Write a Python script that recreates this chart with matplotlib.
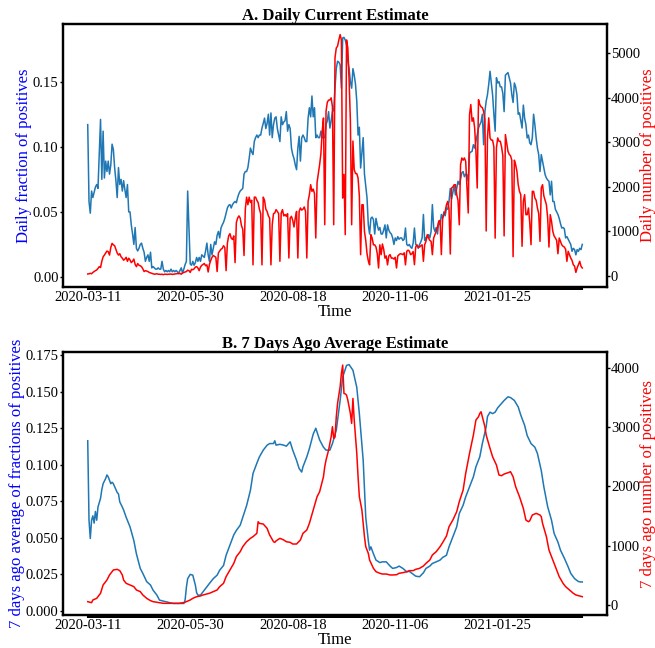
import matplotlib
matplotlib.use('Agg')
import matplotlib.pyplot as plt
import pandas as pd

plt.rcParams['font.family'] = ['Liberation Serif', 'DejaVu Serif']

start_date = '2020-03-11'
tick_labels = ['2020-03-11', '2020-05-30', '2020-08-18', '2020-11-06', '2021-01-25']
a_left_ticks = [0.00, 0.05, 0.10, 0.15]
a_right_ticks = [0, 1000, 2000, 3000, 4000, 5000]
b_left_ticks = [0.000, 0.025, 0.050, 0.075, 0.100, 0.125, 0.150, 0.175]
b_right_ticks = [0, 1000, 2000, 3000, 4000]

# Panel A: daily number of positives (weekly rows, Wed..Tue)
a_count_weeks = [
    [45, 50, 60, 50, 80, 100, 120],
    [135, 170, 210, 190, 330, 430, 470],
    [516, 560, 546, 470, 640, 733, 700],
    [680, 600, 516, 470, 500, 433, 400],
    [355, 380, 420, 330, 400, 360, 300],
    [330, 380, 260, 210, 280, 240, 230],
    [210, 160, 100, 120, 110, 100, 80],
    [70, 60, 50, 40, 45, 50, 40],
    [40, 35, 40, 30, 40, 40, 35],
    [40, 40, 45, 35, 40, 45, 50],
    [55, 50, 60, 40, 70, 80, 90],
    [100, 130, 120, 80, 150, 140, 160],
    [200, 210, 180, 120, 200, 240, 260],
    [280, 230, 250, 90, 260, 350, 420],
    [460, 440, 420, 100, 520, 560, 600],
    [620, 680, 640, 120, 737, 900, 950],
    [850, 820, 900, 300, 1200, 1300, 1350],
    [1300, 1130, 1050, 460, 1500, 1770, 1600],
    [1770, 1650, 1700, 250, 1770, 1770, 1700],
    [1650, 1500, 1400, 250, 1770, 1700, 1500],
    [1450, 1350, 1300, 250, 1150, 1400, 1415],
    [1490, 1450, 1400, 330, 1415, 1490, 1350],
    [1380, 1340, 1400, 404, 1300, 1340, 1250],
    [1100, 1300, 1450, 404, 1450, 1527, 1480],
    [1500, 1550, 1450, 404, 1676, 1826, 2050],
    [1900, 1950, 1850, 853, 2100, 2300, 2500],
    [2750, 3248, 3547, 1151, 3700, 3900, 3950],
    [3950, 4000, 3800, 1151, 4900, 5120, 5160],
    [5300, 5420, 5300, 1750, 2280, 928, 5300],
    [5120, 4400, 3500, 1151, 3030, 2390, 2300],
    [2300, 2200, 1800, 478, 1600, 1600, 1000],
    [800, 500, 340, 250, 928, 850, 700],
    [700, 650, 500, 180, 700, 478, 718],
    [600, 400, 450, 250, 450, 480, 400],
    [404, 380, 420, 180, 450, 479, 500],
    [494, 480, 520, 250, 554, 580, 560],
    [479, 500, 550, 254, 651, 700, 650],
    [650, 680, 700, 330, 703, 778, 928],
    [853, 800, 778, 479, 853, 928, 1003],
    [1100, 1228, 1250, 480, 1300, 1377, 1450],
    [1600, 1676, 1500, 494, 1976, 2000, 2050],
    [2050, 1825, 1700, 1150, 2500, 2650, 2600],
    [2650, 2575, 2000, 1415, 3620, 3850, 3473],
    [3550, 3325, 2800, 1975, 3960, 3850, 3800],
    [3780, 3700, 3500, 1010, 3100, 3550, 3100],
    [3050, 3050, 2900, 850, 2874, 3100, 3025],
    [3025, 2900, 2700, 900, 3175, 2990, 2800],
    [2730, 2700, 2600, 433, 2600, 2500, 2350],
    [2050, 1900, 1826, 667, 1676, 1826, 1377],
    [1377, 1527, 1200, 703, 1900, 1900, 1750],
    [1700, 1527, 1400, 778, 1976, 2050, 1800],
    [1700, 1600, 1300, 650, 1377, 1228, 1003],
    [900, 853, 800, 500, 853, 778, 700],
    [667, 650, 600, 330, 554, 479, 404],
    [350, 254, 220, 80, 180, 254, 330],
    [220, 180],
]

# Panel A: daily fraction of positives
a_frac_weeks = [
    [0.117, 0.058, 0.049, 0.066, 0.061, 0.065, 0.069],
    [0.071, 0.068, 0.094, 0.121, 0.075, 0.112, 0.076],
    [0.089, 0.081, 0.089, 0.079, 0.086, 0.102, 0.098],
    [0.084, 0.074, 0.061, 0.084, 0.071, 0.075, 0.066],
    [0.074, 0.067, 0.061, 0.071, 0.050, 0.050, 0.040],
    [0.033, 0.025, 0.038, 0.022, 0.020, 0.022, 0.025],
    [0.026, 0.022, 0.019, 0.012, 0.015, 0.017, 0.012],
    [0.019, 0.007, 0.008, 0.007, 0.006, 0.006, 0.007],
    [0.006, 0.006, 0.012, 0.006, 0.004, 0.005, 0.004],
    [0.005, 0.004, 0.006, 0.004, 0.005, 0.004, 0.005],
    [0.004, 0.003, 0.005, 0.007, 0.003, 0.006, 0.0095],
    [0.012, 0.066, 0.038, 0.010, 0.009, 0.012, 0.009],
    [0.011, 0.015, 0.012, 0.015, 0.012, 0.017, 0.016],
    [0.015, 0.020, 0.026, 0.017, 0.012, 0.025, 0.017],
    [0.022, 0.027, 0.025, 0.032, 0.035, 0.030, 0.0376],
    [0.040, 0.042, 0.045, 0.049, 0.053, 0.055, 0.0556],
    [0.053, 0.0556, 0.057, 0.058, 0.057, 0.061, 0.064],
    [0.066, 0.067, 0.068, 0.079, 0.081, 0.081, 0.084],
    [0.091, 0.099, 0.096, 0.094, 0.104, 0.107, 0.109],
    [0.107, 0.109, 0.109, 0.1144, 0.118, 0.122, 0.114],
    [0.118, 0.125, 0.109, 0.126, 0.107, 0.117, 0.122],
    [0.123, 0.114, 0.109, 0.104, 0.123, 0.117, 0.119],
    [0.120, 0.127, 0.112, 0.117, 0.114, 0.099, 0.094],
    [0.091, 0.086, 0.0824, 0.099, 0.108, 0.089, 0.1068],
    [0.109, 0.107, 0.104, 0.104, 0.122, 0.130, 0.123],
    [0.139, 0.123, 0.130, 0.107, 0.109, 0.107, 0.107],
    [0.112, 0.107, 0.107, 0.107, 0.117, 0.120, 0.127],
    [0.1144, 0.120, 0.127, 0.128, 0.145, 0.160, 0.1657],
    [0.165, 0.163, 0.145, 0.1836, 0.184, 0.182, 0.178],
    [0.1657, 0.160, 0.150, 0.145, 0.160, 0.155, 0.148],
    [0.135, 0.109, 0.115, 0.0837, 0.095, 0.107, 0.079],
    [0.070, 0.0607, 0.040, 0.033, 0.045, 0.046, 0.044],
    [0.033, 0.045, 0.040, 0.036, 0.038, 0.033, 0.033],
    [0.036, 0.040, 0.030, 0.040, 0.036, 0.034, 0.033],
    [0.030, 0.025, 0.030, 0.028, 0.031, 0.029, 0.030],
    [0.030, 0.028, 0.029, 0.0376, 0.025, 0.024, 0.025],
    [0.023, 0.022, 0.026, 0.0376, 0.025, 0.024, 0.022],
    [0.025, 0.027, 0.030, 0.048, 0.028, 0.030, 0.031],
    [0.0325, 0.030, 0.035, 0.0556, 0.038, 0.035, 0.038],
    [0.033, 0.043, 0.040, 0.048, 0.045, 0.050, 0.047],
    [0.053, 0.052, 0.058, 0.068, 0.060, 0.065, 0.070],
    [0.063, 0.068, 0.0735, 0.071, 0.075, 0.080, 0.081],
    [0.077, 0.079, 0.0786, 0.0735, 0.095, 0.096, 0.0965],
    [0.1016, 0.099, 0.104, 0.109, 0.1144, 0.117, 0.119],
    [0.125, 0.1016, 0.127, 0.135, 0.140, 0.148, 0.158],
    [0.149, 0.140, 0.125, 0.112, 0.153, 0.149, 0.150],
    [0.146, 0.146, 0.141, 0.127, 0.155, 0.156, 0.157],
    [0.153, 0.149, 0.140, 0.134, 0.149, 0.146, 0.140],
    [0.125, 0.126, 0.120, 0.1144, 0.132, 0.122, 0.117],
    [0.1068, 0.109, 0.103, 0.1016, 0.107, 0.125, 0.117],
    [0.1068, 0.099, 0.094, 0.081, 0.094, 0.089, 0.0837],
    [0.0786, 0.076, 0.0745, 0.0735, 0.063, 0.0735, 0.058],
    [0.058, 0.052, 0.050, 0.048, 0.045, 0.041, 0.0376],
    [0.038, 0.037, 0.030, 0.031, 0.029, 0.027, 0.025],
    [0.0197, 0.022, 0.021, 0.017, 0.021, 0.0197, 0.022],
    [0.021, 0.025],
]

# Panel B: 7 days ago average fraction (day offset, value)
b_frac_pts = [
    (0, 0.1164), (1, 0.062), (2, 0.0495), (3, 0.062), (4, 0.065), (5, 0.060), (6, 0.068),
    (7, 0.062), (8, 0.071), (10, 0.077), (11, 0.083), (12, 0.087), (14, 0.0906), (15, 0.093),
    (16, 0.0917), (18, 0.087), (19, 0.088), (20, 0.087), (21, 0.085), (23, 0.081), (24, 0.080),
    (25, 0.0746), (27, 0.071), (28, 0.069), (30, 0.064), (33, 0.0575), (36, 0.048), (38, 0.039),
    (41, 0.029), (43, 0.0256), (46, 0.020), (49, 0.0176), (51, 0.0141), (54, 0.0107), (56, 0.0073),
    (59, 0.0066), (62, 0.006), (64, 0.0055), (67, 0.005), (70, 0.005), (72, 0.005), (75, 0.005),
    (76, 0.0073), (77, 0.016), (78, 0.022), (80, 0.0249), (82, 0.0244), (84, 0.0176), (85, 0.0123),
    (86, 0.0107), (88, 0.0107), (90, 0.013), (93, 0.0164), (95, 0.0187), (98, 0.022), (101, 0.0244),
    (103, 0.0278), (106, 0.031), (108, 0.038), (111, 0.045), (114, 0.052), (116, 0.055), (119, 0.0586),
    (121, 0.064), (124, 0.072), (127, 0.0826), (129, 0.094), (132, 0.101), (134, 0.1054), (137, 0.110),
    (140, 0.1134), (142, 0.1145), (145, 0.1145), (146, 0.1164), (147, 0.1134), (150, 0.114),
    (153, 0.1134), (155, 0.1127), (158, 0.1157), (160, 0.110), (163, 0.103), (165, 0.0974),
    (167, 0.095), (168, 0.0986), (171, 0.1054), (173, 0.111), (176, 0.121), (178, 0.125),
    (181, 0.117), (184, 0.112), (186, 0.110), (189, 0.110), (191, 0.1145), (194, 0.1237),
    (197, 0.144), (199, 0.160), (202, 0.168), (204, 0.1686), (207, 0.1647), (210, 0.153),
    (212, 0.135), (215, 0.103), (217, 0.064), (219, 0.048), (220, 0.0415), (221, 0.0438),
    (223, 0.039), (225, 0.0347), (228, 0.033), (230, 0.0335), (233, 0.0335), (236, 0.0306),
    (238, 0.029), (241, 0.0296), (243, 0.0306), (246, 0.029), (249, 0.0267), (251, 0.027),
    (254, 0.025), (256, 0.0237), (259, 0.0233), (262, 0.026), (264, 0.029), (267, 0.0306),
    (269, 0.0324), (272, 0.0335), (275, 0.0347), (277, 0.0365), (280, 0.038), (282, 0.0438),
    (285, 0.0506), (288, 0.0575), (290, 0.0666), (293, 0.0723), (295, 0.078), (298, 0.0849),
    (301, 0.0917), (303, 0.0986), (306, 0.1054), (308, 0.1145), (311, 0.126), (312, 0.133),
    (314, 0.136), (316, 0.135), (318, 0.136), (320, 0.139), (323, 0.142), (325, 0.144),
    (328, 0.1465), (330, 0.146), (333, 0.144), (336, 0.1396), (338, 0.134), (341, 0.127),
    (343, 0.120), (346, 0.1145), (349, 0.112), (351, 0.1077), (354, 0.096), (356, 0.0849),
    (359, 0.0712), (362, 0.062), (364, 0.053), (367, 0.047), (369, 0.0415), (372, 0.036),
    (375, 0.030), (377, 0.0256), (380, 0.022), (383, 0.020), (385, 0.0197), (386, 0.0197),
]

# Panel B: 7 days ago number of positives (day offset, value)
b_count_pts = [
    (0, 56), (3, 39), (4, 84), (7, 112), (10, 197), (12, 337), (15, 421), (17, 506), (20, 590),
    (23, 601), (25, 579), (27, 506), (28, 421), (30, 365), (33, 337), (36, 309), (38, 253),
    (41, 225), (43, 169), (46, 112), (49, 73), (51, 56), (54, 45), (56, 39), (59, 28), (62, 28),
    (65, 28), (68, 28), (71, 28), (75, 39), (77, 56), (80, 84), (82, 112), (85, 140), (88, 152),
    (90, 169), (93, 185), (95, 197), (98, 225), (101, 253), (103, 309), (106, 365), (108, 478),
    (111, 590), (114, 702), (116, 815), (119, 899), (121, 983), (124, 1067), (127, 1124),
    (129, 1152), (132, 1208), (133, 1404), (134, 1376), (137, 1365), (140, 1292), (142, 1180),
    (145, 1067), (146, 1056), (147, 1080), (150, 1124), (153, 1096), (155, 1067), (158, 1056),
    (160, 1028), (163, 1028), (166, 1096), (168, 1208), (171, 1264), (173, 1376), (176, 1601),
    (179, 1826), (181, 1910), (184, 2163), (185, 2331), (186, 2444), (188, 2612), (189, 2725),
    (190, 2837), (191, 3006), (192, 2809), (193, 2830), (194, 3174), (195, 3399), (197, 3680),
    (198, 3904), (199, 4045), (200, 3567), (201, 3560), (202, 3539), (203, 3455), (205, 3230),
    (206, 3062), (207, 3483), (208, 3118), (210, 2556), (211, 2163), (212, 1826), (214, 1601),
    (215, 1376), (216, 1152), (217, 983), (219, 871), (220, 758), (223, 618), (225, 562),
    (228, 534), (230, 522), (233, 522), (236, 506), (238, 506), (241, 510), (243, 534),
    (246, 545), (249, 560), (251, 579), (254, 579), (256, 601), (259, 618), (262, 657),
    (264, 702), (267, 758), (269, 843), (272, 899), (275, 983), (277, 1051), (280, 1163),
    (282, 1320), (285, 1433), (288, 1573), (290, 1742), (293, 1938), (295, 2219), (298, 2556),
    (301, 2865), (303, 3118), (305, 3174), (306, 3230), (307, 3258), (308, 3174), (310, 3006),
    (311, 2865), (314, 2640), (316, 2500), (319, 2360), (321, 2191), (323, 2180), (325, 2208),
    (328, 2230), (330, 2247), (332, 2163), (334, 1994), (337, 1826), (340, 1629), (342, 1433),
    (344, 1404), (345, 1420), (347, 1517), (350, 1545), (353, 1517), (354, 1489), (355, 1376),
    (358, 1152), (360, 927), (363, 758), (366, 590), (368, 478), (371, 365), (373, 309),
    (376, 253), (379, 197), (381, 169), (384, 152), (386, 140),
]

a_count = [v for w in a_count_weeks for v in w]
a_frac = [v for w in a_frac_weeks for v in w]
start = pd.Timestamp(start_date)
dates_a_count = pd.date_range(start, periods=len(a_count), freq='D')
dates_a_frac = pd.date_range(start, periods=len(a_frac), freq='D')
b_frac_dates = [start + pd.Timedelta(days=d) for d, _ in b_frac_pts]
b_frac = [v for _, v in b_frac_pts]
b_count_dates = [start + pd.Timedelta(days=d) for d, _ in b_count_pts]
b_count = [v for _, v in b_count_pts]
all_days = pd.date_range(start, b_count_dates[-1], freq='D')

BLUE_LINE = '#1f77b4'
W, H = 655, 648
AX_L, AX_W = 63, 544
fig = plt.figure(figsize=(W / 100, H / 100), dpi=100)


def style(ax, ax2, title, left_label, right_label, ylim_l, ylim_r, lt, rt, fmt, left_edge_px):
    ax.set_ylim(*ylim_l)
    ax2.set_ylim(*ylim_r)
    ax.set_yticks(lt)
    ax.set_yticklabels([fmt.format(v) for v in lt])
    ax2.set_yticks(rt)
    ax.set_xticks(all_days)
    ax.set_xticklabels([d.strftime('%Y-%m-%d') if d.strftime('%Y-%m-%d') in tick_labels else ''
                        for d in all_days])
    ax.tick_params(axis='x', length=2.2, width=1.5, labelsize=10.5, pad=0.5)
    ax.tick_params(axis='y', length=2.2, width=1, labelsize=10.5, pad=1)
    ax2.tick_params(axis='y', length=2, width=1, labelsize=10.5, pad=0.8)
    for a in (ax, ax2):
        for s in a.spines.values():
            s.set_linewidth(1.6)
            s.set_color('black')
    ax.set_title(title, fontsize=12, fontweight='bold', pad=3)
    ax.set_xlabel('Time', fontsize=12, labelpad=0)
    ax.set_ylabel(left_label, color='blue', fontsize=12)
    ax2.set_ylabel(right_label, color='red', fontsize=12)
    ax.yaxis.set_label_coords((left_edge_px - AX_L) / AX_W, 0.5)
    ax2.yaxis.set_label_coords((640.5 - AX_L) / AX_W, 0.5)


axA = fig.add_axes([AX_L / W, 1 - 287 / H, AX_W / W, 263 / H])
axA.plot(dates_a_frac, a_frac, color=BLUE_LINE, lw=1.1)
axA2 = axA.twinx()
axA2.plot(dates_a_count, a_count, color='red', lw=1.1)
style(axA, axA2, 'A. Daily Current Estimate', 'Daily fraction of positives',
      'Daily number of positives', (-0.0077, 0.1943), (-247, 5658),
      a_left_ticks, a_right_ticks, '{:.2f}', 32)

axB = fig.add_axes([AX_L / W, 1 - 615 / H, AX_W / W, 263 / H])
axB.plot(b_frac_dates, b_frac, color=BLUE_LINE, lw=1.1)
axB2 = axB.twinx()
axB2.plot(b_count_dates, b_count, color='red', lw=1.1)
style(axB, axB2, 'B. 7 Days Ago Average Estimate', '7 days ago average of fractions of positives',
      '7 days ago number of positives', (-0.0029, 0.1772), (-169, 4266),
      b_left_ticks, b_right_ticks, '{:.3f}', 25.5)

fig.savefig('out.png', dpi=100)
